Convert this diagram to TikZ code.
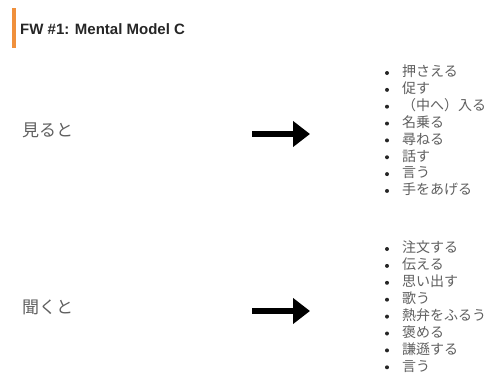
\documentclass[tikz,border=0pt]{standalone}
\usepackage{fontspec}
\setmainfont{Liberation Sans}
\newfontfamily\jpfont{Noto Sans CJK JP}
\usetikzlibrary{arrows.meta}
\definecolor{accent}{HTML}{F0903C}
\definecolor{titlegray}{HTML}{262626}
\definecolor{bodygray}{HTML}{5F5F5F}

\tikzset{
  title/.style={anchor=base west, inner sep=0pt, text=titlegray,
    font=\fontsize{15}{18}\selectfont\bfseries},
  leadin/.style={anchor=west, inner sep=0pt, text=bodygray,
    font=\jpfont\fontsize{17}{20}\selectfont, text height=0.88em, text depth=0.12em},
  item/.style={anchor=west, inner sep=0pt, text=bodygray,
    font=\jpfont\fontsize{14}{16}\selectfont, text height=0.88em, text depth=0.12em},
  bulletdot/.style={fill=black!85},
  bigarrow/.style={line width=6pt, -{Triangle[length=17pt,width=25pt]}},
}

\begin{document}
\begin{tikzpicture}[x=1pt, y=-1pt]
  \useasboundingbox (0,0) rectangle (491,381);

  % heading with accent bar
  \fill[accent] (12,8) rectangle (16,48);
  \node[title] (head) at (20,34) {FW \#1: Mental Model C};

  % first block
  \node[leadin] (see) at (22,133) {見ると};
  \coordinate (a1s) at (252,134);
  \coordinate (a1e) at (310,134);
  \draw[bigarrow] (a1s) -- (a1e);

  \foreach \t [count=\i from 0] in {押さえる, 促す, （中へ）入る, 名乗る, 尋ねる, 話す, 言う, 手をあげる} {
    \fill[bulletdot] (387,73+16.85*\i) circle (2);
    \node[item] (see\i) at (402,73+16.85*\i) {\t};
  }

  % second block
  \node[leadin] (hear) at (22,310) {聞くと};
  \coordinate (a2s) at (252,311);
  \coordinate (a2e) at (310,311);
  \draw[bigarrow] (a2s) -- (a2e);

  \foreach \t [count=\i from 0] in {注文する, 伝える, 思い出す, 歌う, 熱弁をふるう, 褒める, 謙遜する, 言う} {
    \fill[bulletdot] (387,249+16.9*\i) circle (2);
    \node[item] (hear\i) at (402,249+16.9*\i) {\t};
  }
\end{tikzpicture}
\end{document}
